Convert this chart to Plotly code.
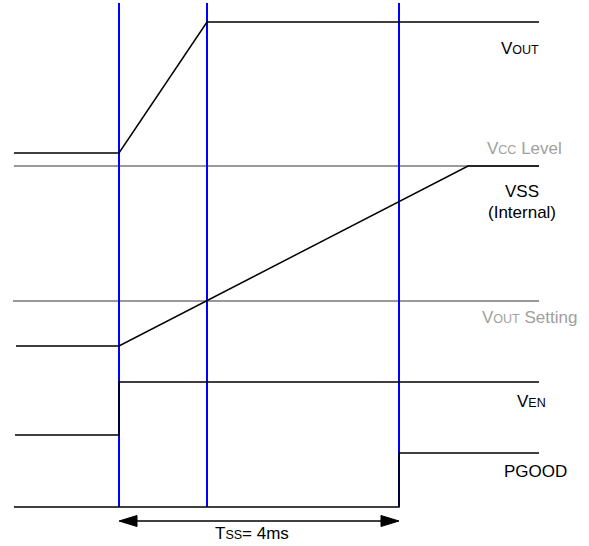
import plotly.graph_objects as go

W, H = 589, 546

# Timing events (x positions of markers, diagram units)
event_x = [119, 207, 399]
marker_top, marker_bottom = 3, 507

# Waveforms (time, level) in diagram units
vout_t = [14, 119, 207, 539]
vout_v = [153, 153, 22, 22]

vcc_t = [14, 539]
vcc_v = [166, 166]

vss_t = [16, 119, 468, 539]
vss_v = [346, 346, 166, 166]

vset_t = [13, 539]
vset_v = [301, 301]

ven_t = [15, 119, 119, 539]
ven_v = [435, 435, 382, 382]

pgood_t = [14, 399, 399, 539]
pgood_v = [507, 507, 453, 453]

tss_start, tss_end, tss_y = 119, 399, 521

SUB = "<span style='font-size:12.5px'>{}</span>"
labels = [
    ("V" + SUB.format("OUT"), 520, 48, "black"),
    ("V" + SUB.format("CC") + " Level", 524, 148, "#a0a0a0"),
    ("VSS", 522, 191, "black"),
    ("(Internal)", 522, 212, "black"),
    ("V" + SUB.format("OUT") + " Setting", 529, 317, "#a0a0a0"),
    ("V" + SUB.format("EN"), 531, 401, "black"),
    ("PGOOD", 535, 471, "black"),
    ("T" + SUB.format("SS") + "= 4ms", 252, 533, "black"),
]

fig = go.Figure()

# gray reference levels
for t, v in [(vcc_t, vcc_v), (vset_t, vset_v)]:
    fig.add_trace(go.Scatter(x=t, y=v, mode="lines",
                             line=dict(color="#999999", width=2), hoverinfo="skip"))

# blue event markers
for ex in event_x:
    fig.add_trace(go.Scatter(x=[ex, ex], y=[marker_top, marker_bottom], mode="lines",
                             line=dict(color="#0000ff", width=2), hoverinfo="skip"))

# black waveforms
for t, v in [(vout_t, vout_v), (vss_t, vss_v), (ven_t, ven_v), (pgood_t, pgood_v)]:
    fig.add_trace(go.Scatter(x=t, y=v, mode="lines",
                             line=dict(color="black", width=1.5), hoverinfo="skip"))

# T_SS double arrow: shaft plus two filled heads
HEAD_L, HEAD_W = 18, 5.5
fig.add_trace(go.Scatter(x=[tss_start + HEAD_L - 2, tss_end - HEAD_L + 2], y=[tss_y, tss_y],
                         mode="lines", line=dict(color="black", width=1.5), hoverinfo="skip"))
for tip, d in [(tss_start, 1), (tss_end, -1)]:
    fig.add_trace(go.Scatter(
        x=[tip, tip + d * HEAD_L, tip + d * HEAD_L, tip],
        y=[tss_y, tss_y - HEAD_W, tss_y + HEAD_W, tss_y],
        mode="lines", fill="toself", fillcolor="black",
        line=dict(color="black", width=1), hoverinfo="skip"))

for txt, x, y, col in labels:
    fig.add_annotation(x=x, y=y, xref="x", yref="y", text=txt, showarrow=False,
                       font=dict(family="Liberation Sans, Arial", size=17, color=col),
                       xanchor="center", yanchor="middle")

fig.update_layout(
    width=W, height=H, margin=dict(l=0, r=0, t=0, b=0),
    paper_bgcolor="white", plot_bgcolor="white", showlegend=False,
    xaxis=dict(range=[0, W], visible=False, fixedrange=True),
    yaxis=dict(range=[H, 0], visible=False, fixedrange=True),
)

fig.write_html("out.html", config={"displayModeBar": False},
               post_script="document.body.style.margin='0';document.body.style.overflow='hidden';")
